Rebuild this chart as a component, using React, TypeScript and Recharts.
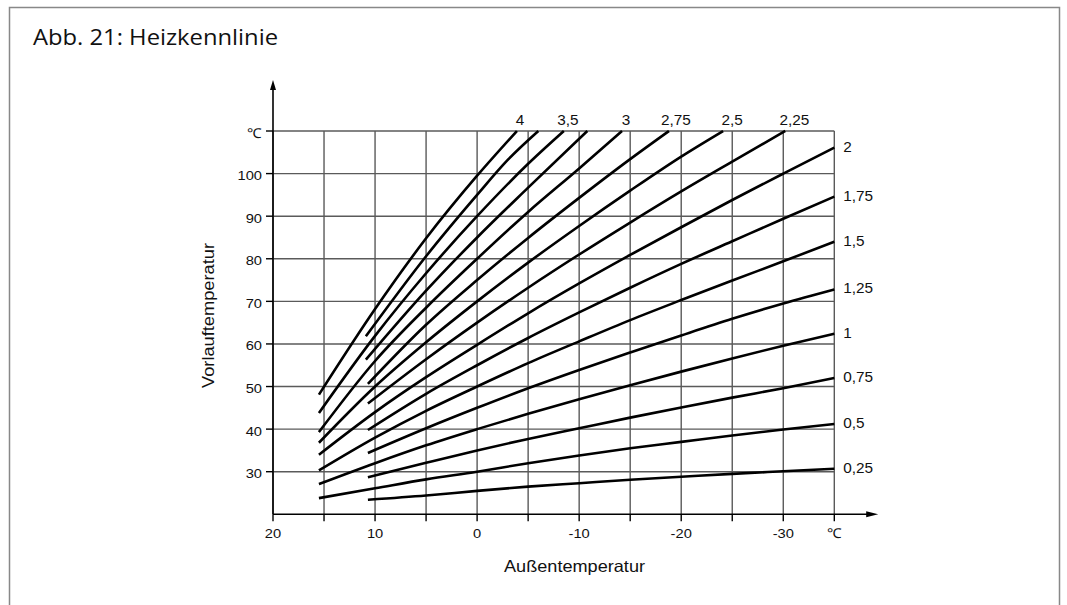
import React from 'react';
import { LineChart, Line, XAxis, YAxis, CartesianGrid, ReferenceLine, ReferenceDot } from 'recharts';

// ---- axis ticks ----
const xTicks = [20, 15, 10, 5, 0, -5, -10, -15, -20, -25, -30, -35];
const xTickLabels = ['20', '', '10', '', '0', '', '-10', '', '-20', '', '-30', '℃'];
const yTicks = [30, 40, 50, 60, 70, 80, 90, 100, 110];
const yTickLabels = ['30', '40', '50', '60', '70', '80', '90', '100', '℃'];

// ---- outside temperature sample points ----
const xStartLow = [15.5, 10, 5, 0, -5, -10, -15, -20, -25, -30, -35];
const xStartHigh = [10.7, 5, 0, -5, -10, -15, -20, -25, -30, -35];

// ---- flow temperatures per heating-curve slope ----
const y025 = [23.4, 24.4, 25.5, 26.5, 27.3, 28.1, 28.8, 29.5, 30.1, 30.7];
const y05 = [23.8, 26.1, 28.2, 30.0, 32.0, 33.8, 35.5, 37.0, 38.5, 39.9, 41.2];
const y075 = [28.7, 32.1, 35.0, 37.7, 40.2, 42.7, 45.1, 47.4, 49.6, 52.0];
const y1 = [27.1, 32.0, 36.2, 40.0, 43.6, 47.0, 50.3, 53.5, 56.6, 59.6, 62.4];
const y125 = [34.4, 40.2, 45.0, 49.6, 53.9, 58.0, 62.0, 65.9, 69.5, 72.8];
const y15 = [30.3, 38.0, 44.3, 50.0, 55.5, 60.6, 65.6, 70.3, 74.9, 79.4, 84.0];
const y175 = [39.8, 48.3, 55.0, 61.4, 67.4, 73.2, 78.8, 84.1, 89.4, 94.6];
const y2 = [34.0, 44.0, 52.2, 59.8, 67.2, 74.2, 80.9, 87.4, 93.8, 100.0, 106.1];

const x225 = [10.7, 5, 0, -5, -10, -15, -20, -25, -30.2];
const y225 = [46.0, 56.4, 65.0, 73.2, 81.0, 88.5, 95.8, 102.8, 110];
const x25 = [15.5, 10, 5, 0, -5, -10, -15, -20, -24.1];
const y25 = [36.8, 50.0, 60.4, 70.0, 79.1, 87.7, 96.0, 104.0, 110];
const x275 = [10.7, 5, 0, -5, -10, -15, -18.8];
const y275 = [50.6, 64.5, 75.0, 84.9, 94.3, 103.4, 110];
const x3 = [15.5, 10, 5, 0, -5, -10, -14.2];
const y3 = [39.3, 56.0, 68.5, 80.0, 91.0, 101.2, 110];
const x325 = [10.9, 5, 0, -5, -10.8];
const y325 = [56.3, 72.5, 85.0, 96.7, 110];
const x35 = [15.5, 10, 5, 0, -5, -8.5];
const y35 = [43.8, 61.9, 76.6, 90.0, 102.3, 110];
const x375 = [10.9, 5, 0, -3, -6.0];
const y375 = [61.8, 80.6, 95.0, 103.2, 110];
const x4 = [15.5, 10, 5, 0, -3.9];
const y4 = [48.1, 68.2, 84.8, 99.5, 110];

const curveLabels = ['0,25', '0,5', '0,75', '1', '1,25', '1,5', '1,75', '2', '2,25', '2,5', '2,75', '3', '', '3,5', '', '4'];
const curveX = [xStartHigh, xStartLow, xStartHigh, xStartLow, xStartHigh, xStartLow, xStartHigh, xStartLow, x225, x25, x275, x3, x325, x35, x375, x4];
const curveY = [y025, y05, y075, y1, y125, y15, y175, y2, y225, y25, y275, y3, y325, y35, y375, y4];

// label offsets (style only)
const topLabelDx: Record<string, number> = { '4': 3, '3,5': 4, '3': 4, '2,75': 7, '2,5': 9, '2,25': 9 };

const FONT = '"Liberation Sans", Arial, Helvetica, sans-serif';
const SX = 1.08;

const series = curveX.map((xs, i) => ({
  label: curveLabels[i],
  data: xs.map((x, j) => ({ x, y: curveY[i][j] })),
  top: curveY[i][curveY[i].length - 1] >= 110,
}));

const XTick = (props: any) => {
  const { x, y, payload } = props;
  const idx = xTicks.indexOf(payload.value);
  const t = idx >= 0 ? xTickLabels[idx] : '';
  if (!t) return <g />;
  return (
    <text transform={`translate(${x},${y + 15}) scale(${SX},1)`} textAnchor="middle" fontFamily={FONT} fontSize={13.6} fill="#111">
      {t}
    </text>
  );
};

const YTick = (props: any) => {
  const { x, y, payload } = props;
  const idx = yTicks.indexOf(payload.value);
  const t = idx >= 0 ? yTickLabels[idx] : '';
  return (
    <text transform={`translate(${x - 2},${y + 6.5}) scale(${SX},1)`} textAnchor="end" fontFamily={FONT} fontSize={13.6} fill="#111">
      {t}
    </text>
  );
};

const makeLabel = (s: { label: string; data: any[]; top: boolean }) => (p: any) => {
  if (!s.label || p.index !== s.data.length - 1) return <g />;
  if (s.top) {
    const dx = topLabelDx[s.label] ?? 5;
    return (
      <text transform={`translate(${p.x + dx},${p.y - 6}) scale(${SX},1)`} textAnchor="middle" fontFamily={FONT} fontSize={14.2} fill="#111">
        {s.label}
      </text>
    );
  }
  return (
    <text transform={`translate(${p.x + 9},${p.y + 4}) scale(${SX},1)`} textAnchor="start" fontFamily={FONT} fontSize={14.2} fill="#111">
      {s.label}
    </text>
  );
};

const upArrow = (p: any) => <path d={`M${p.cx},${p.cy} L${p.cx - 3},${p.cy + 10} L${p.cx + 3},${p.cy + 10} Z`} fill="#000" />;
const rightArrow = (p: any) => <path d={`M${p.cx},${p.cy} L${p.cx - 12},${p.cy - 3} L${p.cx - 12},${p.cy + 3} Z`} fill="#000" />;

export default function App() {
  return (
    <div style={{ position: 'absolute', left: 0, top: 0, width: 1067, height: 605, background: '#fff' }}>
      <svg width={1067} height={605} style={{ position: 'absolute', left: 0, top: 0 }}>
        <path d="M9.5,620 L9.5,7.5 L1059.5,7.5 L1059.5,620" fill="none" stroke="#888" strokeWidth={1.5} />
        <text x={33} y={45} fontFamily='"Open Sans", "Noto Sans", sans-serif' fontSize={21.5} fill="#111" textLength={245} lengthAdjust="spacingAndGlyphs">
          Abb. 21: Heizkennlinie
        </text>
        <text x={574.5} y={572} textAnchor="middle" fontFamily={FONT} fontSize={16.5} fill="#111" textLength={141} lengthAdjust="spacingAndGlyphs">
          Außentemperatur
        </text>
        <text transform="translate(214,315.5) rotate(-90)" textAnchor="middle" fontFamily={FONT} fontSize={16.5} fill="#111" textLength={145} lengthAdjust="spacingAndGlyphs">
          Vorlauftemperatur
        </text>
      </svg>
      <div style={{ position: 'absolute', left: 0, top: 0 }}>
        <LineChart width={1067} height={605} margin={{ top: 131, right: 232.7, bottom: 60.7, left: 213 }}>
          <CartesianGrid stroke="#5a5a5a" strokeWidth={1.4} horizontalValues={yTicks} verticalValues={xTicks} />
          <XAxis
            dataKey="x"
            type="number"
            domain={[-35, 20]}
            reversed
            ticks={xTicks}
            interval={0}
            height={30}
            axisLine={false}
            tickLine={{ stroke: '#000', strokeWidth: 1.4 }}
            tickSize={7}
            tick={<XTick />}
          />
          <YAxis
            type="number"
            domain={[20, 110]}
            ticks={yTicks}
            interval={0}
            width={60}
            axisLine={false}
            tickLine={{ stroke: '#000', strokeWidth: 1.4 }}
            tickSize={7}
            tick={<YTick />}
          />
          <ReferenceLine segment={[{ x: 20, y: 20 }, { x: -38.6, y: 20 }]} stroke="#000" strokeWidth={1.6} ifOverflow="visible" />
          <ReferenceLine segment={[{ x: 20, y: 20 }, { x: 20, y: 120.5 }]} stroke="#000" strokeWidth={1.6} ifOverflow="visible" />
          <ReferenceDot x={-39.3} y={20} r={0} shape={rightArrow} ifOverflow="visible" />
          <ReferenceDot x={20} y={122.0} r={0} shape={upArrow} ifOverflow="visible" />
          {series.map((s, i) => (
            <Line
              key={i}
              data={s.data}
              dataKey="y"
              type="monotone"
              stroke="#000"
              strokeWidth={2.6}
              dot={false}
              activeDot={false}
              isAnimationActive={false}
              label={makeLabel(s)}
            />
          ))}
        </LineChart>
      </div>
    </div>
  );
}
